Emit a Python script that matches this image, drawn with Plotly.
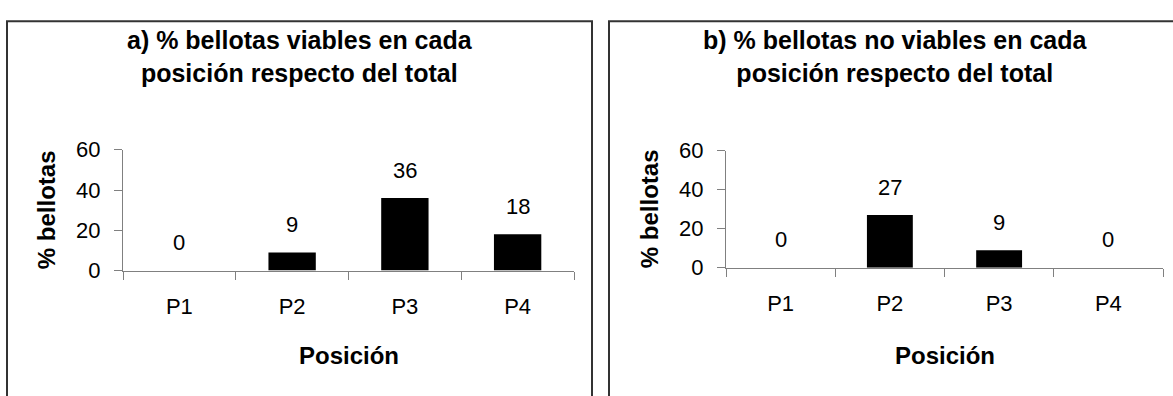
import plotly.graph_objects as go

# Data
posiciones = ["P1", "P2", "P3", "P4"]
viables = [0, 9, 36, 18]
no_viables = [0, 27, 9, 0]

titulo_a = "a) % bellotas viables en cada<br>posición respecto del total"
titulo_b = "b) % bellotas no viables en cada<br>posición respecto del total"
eje_x = "Posición"
eje_y = "% bellotas"
y_ticks = [0, 20, 40, 60]

W, H = 1173, 396
FONT = "Arial, 'Liberation Sans', sans-serif"
SIZE_TXT = 22
SIZE_BOLD = 24
SIZE_TITLE = 25


def fx(px):
    return px / W


def fy(py):
    return 1 - py / H


# Plot areas in pixels: (x0, x1, y_top, y_bottom) and frame edges
panels = [
    dict(xa="x", ya="y", box=(123, 574, 147, 276), frame=(7, 592), tcx=300, data=viables, title=titulo_a),
    dict(xa="x2", ya="y2", box=(726, 1163, 148, 273), frame=(609, 1190), tcx=895, data=no_viables, title=titulo_b),
]

fig = go.Figure()
annotations = []
shapes = []

for i, p in enumerate(panels):
    x0, x1, yt, yb = p["box"]
    fig.add_trace(go.Bar(
        x=posiciones, y=p["data"], width=0.42,
        marker=dict(color="black", line=dict(width=0)),
        xaxis=p["xa"], yaxis=p["ya"], showlegend=False, hoverinfo="skip",
    ))
    # value labels above bars
    for cat, val in zip(posiciones, p["data"]):
        annotations.append(dict(
            x=cat, y=val, xref=p["xa"], yref=p["ya"], text=str(val),
            showarrow=False, yshift=28, font=dict(family=FONT, size=SIZE_TXT, color="black"),
        ))
    sfx = "" if i == 0 else str(i + 1)
    axis_common = dict(showline=True, linecolor="#808080", linewidth=1,
                       ticks="outside", ticklen=8, tickcolor="#808080", tickwidth=1,
                       showgrid=False, zeroline=False,
                       tickfont=dict(family=FONT, size=SIZE_TXT, color="black"))
    fig.update_layout(**{
        "xaxis" + sfx: dict(domain=[fx(x0), fx(x1)], anchor="y" + sfx,
                            tickson="boundaries", ticklabelstandoff=16, **axis_common),
        "yaxis" + sfx: dict(domain=[fy(yb), fy(yt)], anchor="x" + sfx, range=[0, 60],
                            tickvals=y_ticks, ticklabelstandoff=9, **axis_common),
    })
    # panel title
    annotations.append(dict(
        x=fx(p["tcx"]), y=fy(47),
        xref="paper", yref="paper", text="<b>" + p["title"] + "</b>", showarrow=False,
        xanchor="center", yanchor="middle", align="center",
        font=dict(family=FONT, size=SIZE_TITLE, color="black"),
    ))
    # axis titles
    annotations.append(dict(
        x=fx((x0 + x1) / 2), y=fy(367), xref="paper", yref="paper",
        text="<b>" + eje_x + "</b>", showarrow=False, xanchor="center", yanchor="middle",
        font=dict(family=FONT, size=SIZE_BOLD, color="black"),
    ))
    annotations.append(dict(
        x=fx(x0 - 77), y=fy((yt + yb) / 2), xref="paper", yref="paper",
        text="<b>" + eje_y + "</b>", showarrow=False, textangle=-90,
        xanchor="center", yanchor="middle",
        font=dict(family=FONT, size=SIZE_BOLD, color="black"),
    ))
    # panel frame
    shapes.append(dict(type="rect", xref="paper", yref="paper",
                       x0=fx(p["frame"][0]), x1=fx(p["frame"][1]), y0=fy(H + 20), y1=fy(10),
                       line=dict(color="#333333", width=2), fillcolor="rgba(0,0,0,0)"))

fig.update_layout(
    width=W, height=H, margin=dict(l=0, r=0, t=0, b=0),
    paper_bgcolor="white", plot_bgcolor="white",
    annotations=annotations, shapes=shapes, bargap=0.58,
)

fig.write_html("out.html")
